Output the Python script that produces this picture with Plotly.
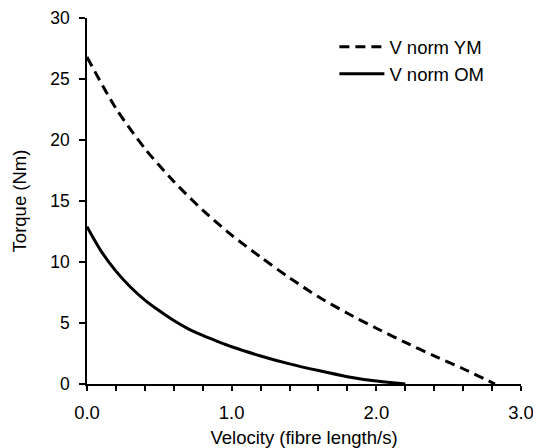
import plotly.graph_objects as go

# Data
velocity_ym = [0.0, 0.2, 0.4, 0.6, 0.8, 1.0, 1.2, 1.4, 1.6, 1.8, 2.0, 2.2, 2.4, 2.6, 2.82]
torque_ym = [26.8, 22.6, 19.3, 16.6, 14.25, 12.2, 10.4, 8.7, 7.15, 5.8, 4.57, 3.41, 2.3, 1.25, 0.0]

velocity_om = [0.0, 0.1, 0.2, 0.3, 0.4, 0.5, 0.6, 0.7, 0.8, 0.9, 1.0, 1.2, 1.4, 1.6, 1.8, 2.0, 2.2]
torque_om = [12.9, 10.85, 9.25, 7.95, 6.88, 6.0, 5.2, 4.52, 3.98, 3.5, 3.05, 2.3, 1.65, 1.1, 0.6, 0.24, 0.0]

series_names = ["V norm YM", "V norm OM"]

x_tickvals = [0.0, 0.2, 0.4, 0.6, 0.8, 1.0, 1.2, 1.4, 1.6, 1.8, 2.0, 2.2, 2.4, 2.6, 2.8, 3.0]
x_ticktext = ["0.0", "", "", "", "", "1.0", "", "", "", "", "2.0", "", "", "", "", "3.0"]
y_tickvals = [0, 5, 10, 15, 20, 25, 30]

FONT = "Liberation Sans, Arial, sans-serif"

fig = go.Figure()
fig.add_trace(go.Scatter(
    x=velocity_ym, y=torque_ym, mode="lines", name=series_names[0],
    line=dict(color="black", width=3, dash="10px,6px", shape="spline", smoothing=0.8),
))
fig.add_trace(go.Scatter(
    x=velocity_om, y=torque_om, mode="lines", name=series_names[1],
    line=dict(color="black", width=3, shape="spline", smoothing=0.8),
))

# The page body has an 8px default margin, so the figure is sized to fit the window.
fig.update_layout(
    width=533, height=440,
    margin=dict(l=79, r=20, t=10, b=64),
    paper_bgcolor="white", plot_bgcolor="white",
    font=dict(family=FONT, color="black", size=17),
    showlegend=True,
    legend=dict(
        x=0.57, y=0.972, xanchor="left", yanchor="top",
        bgcolor="rgba(0,0,0,0)", borderwidth=0,
        font=dict(size=18.5, family=FONT), tracegroupgap=0, itemwidth=45,
    ),
    xaxis=dict(
        range=[0, 3.0], tickmode="array", tickvals=x_tickvals, ticktext=x_ticktext,
        showline=True, linecolor="black", linewidth=1.5, mirror=False,
        ticks="outside", ticklen=5, tickwidth=1.5, tickcolor="black",
        showgrid=False, zeroline=False, automargin=False,
        tickfont=dict(size=18.5, family=FONT), ticklabelstandoff=6,
        title=dict(text="Velocity (fibre length/s)", font=dict(size=18.5, family=FONT), standoff=13),
    ),
    yaxis=dict(
        range=[0, 30], tickmode="array", tickvals=y_tickvals,
        showline=True, linecolor="black", linewidth=1.5, mirror=False,
        ticks="outside", ticklen=6, tickwidth=1.5, tickcolor="black",
        showgrid=False, zeroline=False, automargin=False,
        tickfont=dict(size=17.5, family=FONT), ticklabelstandoff=6,
        title=dict(text="Torque (Nm)", font=dict(size=18.5, family=FONT), standoff=19),
    ),
)

fig.write_html("out.html")
